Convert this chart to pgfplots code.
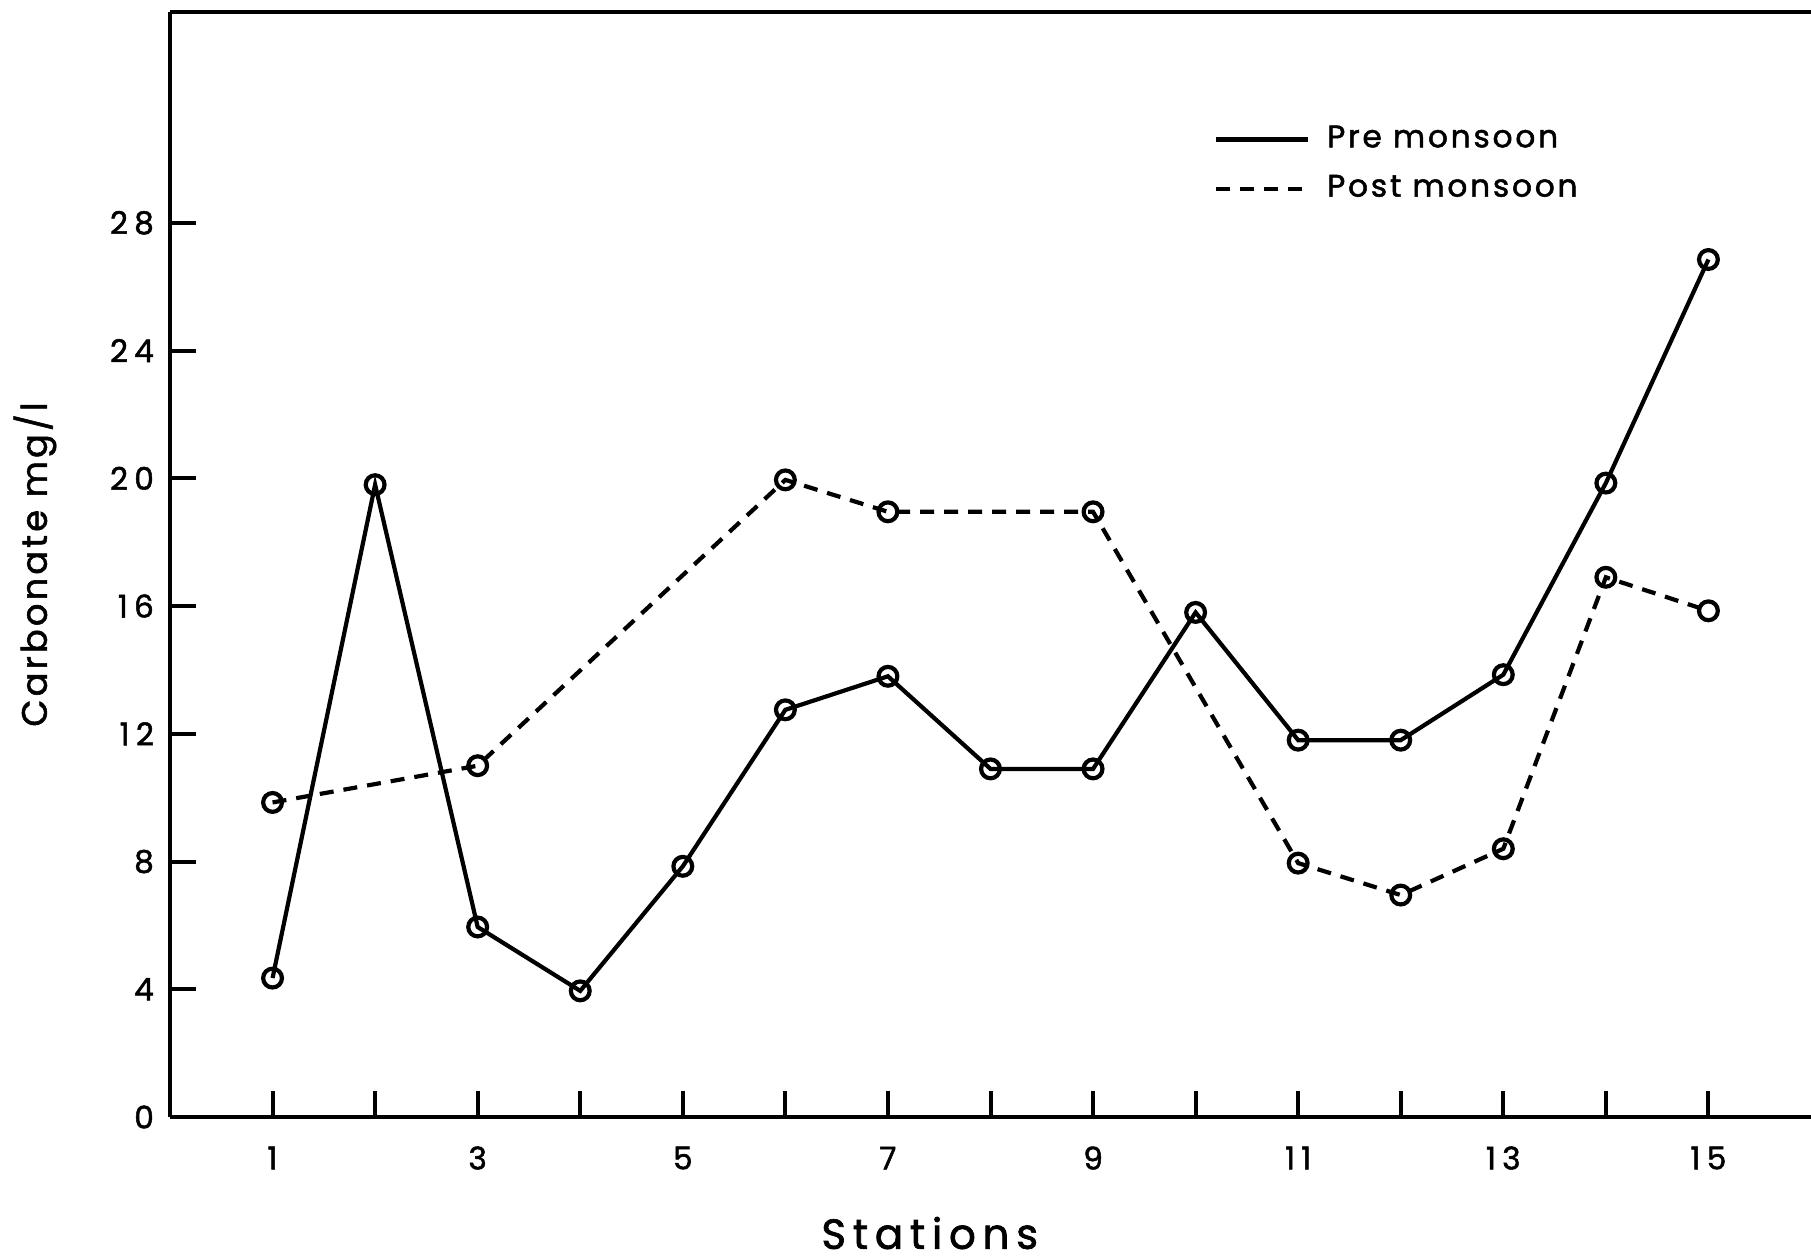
\documentclass[border=0pt]{standalone}
\usepackage{fontspec}
\setmainfont{Poppins}
\newfontfamily\tickfont{Poppins}[LetterSpace=20, FakeBold=1.6]
\newfontfamily\labfont{Poppins}[LetterSpace=16, FakeBold=1.6]
\newfontfamily\ylabfont{Poppins}[LetterSpace=9, FakeBold=1.6]
\newfontfamily\legfont{Poppins}[LetterSpace=9, FakeBold=1.6]
\usepackage{pgfplots}
\pgfplotsset{compat=1.18}
\begin{document}
\begin{tikzpicture}
\useasboundingbox (-42.5pt,-35.25pt) rectangle (410.25pt,279.25pt);
\begin{axis}[
  at={(0,0)}, anchor=south west,
  scale only axis,
  width=410.25pt, height=276.25pt,
  xmin=0, xmax=16, ymin=0, ymax=34.6,
  axis x line=box, axis y line=left,
  axis line style={-, line width=1.1pt},
  x axis line style={-}, y axis line style={-},
  xtick pos=left, ytick pos=left,
  tick align=inside,
  major tick length=6.5pt,
  every tick/.style={line width=1pt, black},
  xtick={1,...,15},
  xticklabels={1,,3,,5,,7,,9,,11,,13,,15},
  ytick={0,4,...,28},
  /pgf/number format/assume math mode=true,
  ticklabel style={font=\tickfont\fontsize{7.8}{9}\selectfont},
  xticklabel style={anchor=center, yshift=-10.25pt},
  yticklabel style={anchor=east, xshift=-0.5pt},
  xlabel={Stations},
  ylabel={Carbonate mg/l},
  xlabel style={font=\labfont\fontsize{10.5}{12}\selectfont, at={(axis description cs:0.463,-0.105)}, anchor=center},
  ylabel style={font=\ylabfont\fontsize{8.8}{10}\selectfont, at={(axis description cs:-0.0823,0.5)}, anchor=center},
  legend style={draw=none, fill=none, at={(axis description cs:0.6356,0.907)}, anchor=north west,
    font=\legfont\fontsize{7.8}{9}\selectfont, row sep=0.4pt, column sep=1.8pt, inner sep=0pt,
    nodes={inner sep=2.5pt}},
  legend cell align=left,
  legend image code/.code={\draw[mark=none,#1] (0pt,0pt) -- (23pt,0pt);},
  clip=false,
]
\addplot[black, line width=1.05pt, mark=o, mark size=2.35pt, mark options={solid, fill=white, line width=1.05pt}]
coordinates {(1,4.35) (2,19.8) (3,5.95) (4,3.95) (5,7.85) (6,12.75) (7,13.8) (8,10.9) (9,10.9) (10,15.8) (11,11.8) (12,11.8) (13,13.85) (14,19.85) (15,26.85)};
\addlegendentry{Pre monsoon}
\addplot[black, line width=1.05pt, dash pattern=on 3.5pt off 2.5pt, mark=o, mark size=2.35pt, mark options={solid, fill=white, line width=1.05pt}]
coordinates {(1,9.85) (3,11) (6,19.95) (7,18.95) (9,18.95) (11,7.95) (12,6.95) (13,8.4) (14,16.9) (15,15.85)};
\addlegendentry{Post monsoon}
\end{axis}
\end{tikzpicture}
\end{document}
